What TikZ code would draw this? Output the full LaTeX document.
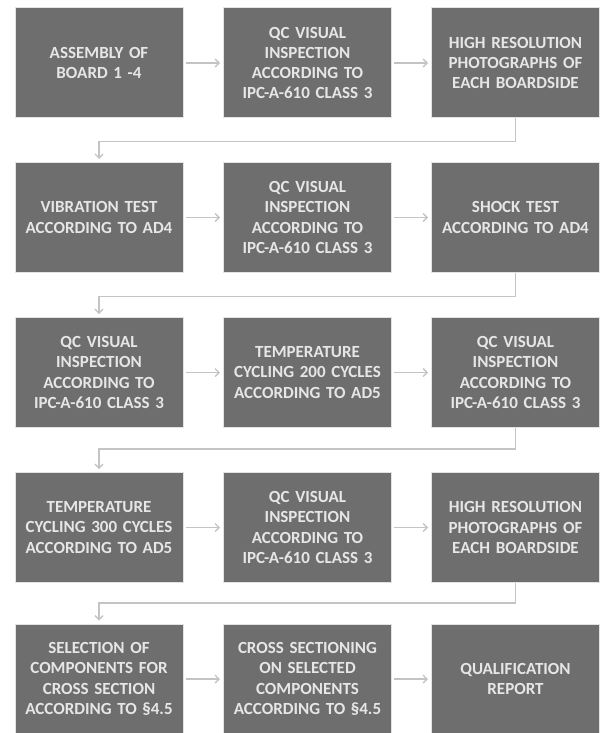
\documentclass[tikz,border=0pt]{standalone}
\usepackage{fontspec}
\setmainfont{Carlito}[WordSpace=0.6]
\usepackage{tikz}
\usetikzlibrary{calc, arrows.meta}

\definecolor{boxgray}{HTML}{6E6E6E}
\definecolor{linkgray}{HTML}{C4C4C4}
\definecolor{textgray}{HTML}{E6E6E6}

\begin{document}
\begin{tikzpicture}[x=1pt,y=-1pt]
\tikzstyle{stage}=[rectangle,fill=boxgray,draw=gray!22,line width=1pt,minimum width=168pt,minimum height=110pt,inner sep=0pt,text width=168pt,align=center,text=textgray,font=\fontsize{17}{20.3}\selectfont\bfseries]
\tikzstyle{link}=[draw=linkgray,line width=1.4pt,-{Straight Barb[length=4pt,width=8pt]}]
\useasboundingbox (0,0) rectangle (601,733);
% row 1
\node[stage] (A_1) at (99,63) {ASSEMBLY OF\\BOARD 1 -4};
\node[stage] (A_2) at (307.5,63) {QC VISUAL\\INSPECTION\\ACCORDING TO\\IPC-A-610 CLASS 3};
\node[stage] (A_3) at (515.5,63) {HIGH RESOLUTION\\PHOTOGRAPHS OF\\EACH BOARDSIDE};
% row 2
\node[stage] (B_1) at (99,217.5) {VIBRATION TEST\\ACCORDING TO AD4};
\node[stage] (B_2) at (307.5,217.5) {QC VISUAL\\INSPECTION\\ACCORDING TO\\IPC-A-610 CLASS 3};
\node[stage] (B_3) at (515.5,217.5) {SHOCK TEST\\ACCORDING TO AD4};
% row 3
\node[stage] (C_1) at (99,372.5) {QC VISUAL\\INSPECTION\\ACCORDING TO\\IPC-A-610 CLASS 3};
\node[stage] (C_2) at (307.5,372.5) {TEMPERATURE\\CYCLING 200 CYCLES\\ACCORDING TO AD5};
\node[stage] (C_3) at (515.5,372.5) {QC VISUAL\\INSPECTION\\ACCORDING TO\\IPC-A-610 CLASS 3};
% row 4
\node[stage] (D_1) at (99,527.5) {TEMPERATURE\\CYCLING 300 CYCLES\\ACCORDING TO AD5};
\node[stage] (D_2) at (307.5,527.5) {QC VISUAL\\INSPECTION\\ACCORDING TO\\IPC-A-610 CLASS 3};
\node[stage] (D_3) at (515.5,527.5) {HIGH RESOLUTION\\PHOTOGRAPHS OF\\EACH BOARDSIDE};
% row 5
\node[stage] (E_1) at (99,679) {SELECTION OF\\COMPONENTS FOR\\CROSS SECTION\\ACCORDING TO \S4.5};
\node[stage] (E_2) at (307.5,679) {CROSS SECTIONING\\ON SELECTED\\COMPONENTS\\ACCORDING TO \S4.5};
\node[stage] (E_3) at (515.5,679) {QUALIFICATION\\REPORT};
% turns between rows
\coordinate (T_1) at (99,141.5);
\coordinate (T_2) at (99,296.5);
\coordinate (T_3) at (99,449);
\coordinate (T_4) at (99,603);
\foreach \r in {A,B,C,D,E} {
  \draw[link] ($(\r_1.east)+(2,0)$) -- ($(\r_2.west)+(-3,0)$);
  \draw[link] ($(\r_2.east)+(2,0)$) -- ($(\r_3.west)+(-3,0)$);
}
\draw[link] (A_3.south) |- (T_1) -- ($(T_1 |- B_1.north)+(0,-3)$);
\draw[link] (B_3.south) |- (T_2) -- ($(T_2 |- C_1.north)+(0,-3)$);
\draw[link] (C_3.south) |- (T_3) -- ($(T_3 |- D_1.north)+(0,-3)$);
\draw[link] (D_3.south) |- (T_4) -- ($(T_4 |- E_1.north)+(0,-3)$);
\end{tikzpicture}
\end{document}
